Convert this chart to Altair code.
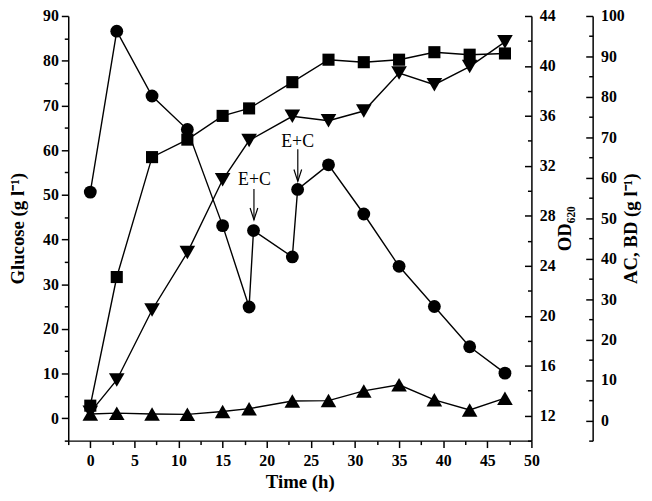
import altair as alt
import pandas as pd

# ---- data ----
t_glu = [0, 3, 7, 11, 15, 18, 18.5, 22.9, 23.5, 27, 31, 35, 39, 43, 47]
glucose = [50.6, 86.6, 72.1, 64.6, 43.1, 24.9, 42.0, 36.1, 51.2, 56.7, 45.7, 34.0, 25.0, 16.0, 10.1]

t_obs = [0, 3, 7, 11, 15, 18, 22.9, 27, 31, 35, 39, 43, 47]
od620 = [12.8, 23.1, 32.7, 34.1, 36.0, 36.6, 38.7, 40.5, 40.3, 40.5, 41.1, 40.9, 41.0]
bd = [2.0, 10.0, 27.3, 41.5, 59.5, 69.2, 75.2, 74.1, 76.5, 85.9, 83.0, 87.5, 93.6]
ac = [1.6, 1.8, 1.6, 1.5, 2.2, 2.9, 4.8, 4.9, 7.3, 8.8, 5.1, 2.6, 5.5]

ann_labels = ["E+C", "E+C"]
ann_text_t = [18.6, 23.5]
ann_text_y = [53.3, 61.9]
ann_arrow_t = [18.55, 23.52]
ann_arrow_top = [51.3, 60.2]
ann_arrow_tip = [44.4, 53.0]

x_major = [0, 5, 10, 15, 20, 25, 30, 35, 40, 45, 50]
x_minor = [-2.5, 2.5, 7.5, 12.5, 17.5, 22.5, 27.5, 32.5, 37.5, 42.5, 47.5]
glu_major = [0, 10, 20, 30, 40, 50, 60, 70, 80, 90]
glu_minor = [-5, 5, 15, 25, 35, 45, 55, 65, 75, 85]
od_major = [12, 16, 20, 24, 28, 32, 36, 40, 44]
od_minor = [10, 14, 18, 22, 26, 30, 34, 38, 42]
acbd_major = [0, 10, 20, 30, 40, 50, 60, 70, 80, 90, 100]
acbd_minor = [-5, 5, 15, 25, 35, 45, 55, 65, 75, 85, 95]

df_glu = pd.DataFrame({"t": t_glu, "glucose": glucose})
df_obs = pd.DataFrame({"t": t_obs, "od": od620, "bd": bd, "ac": ac})
df_txt = pd.DataFrame({"t": ann_text_t, "glucose": ann_text_y, "label": ann_labels})
df_arr = pd.DataFrame({"t": ann_arrow_t, "glucose": ann_arrow_top, "tip": ann_arrow_tip})

FONT = "Liberation Serif"
W, H = 469, 430
MAJ, MIN = 7, 4
LW = 1.4


def xs():
    return alt.Scale(domain=[-2.5, 50], nice=False, zero=False)


def glu_s():
    return alt.Scale(domain=[-5, 90], nice=False, zero=False)


def od_s():
    return alt.Scale(domain=[10, 44], nice=False, zero=False)


def acbd_s():
    return alt.Scale(domain=[-5, 100], nice=False, zero=False)


def minor_axis(orient, values, offset=0):
    return alt.Axis(orient=orient, values=values, tickSize=MIN, labels=False,
                    domain=False, title=None, offset=offset)


x_axis = alt.Axis(
    orient="bottom", values=x_major, tickSize=MAJ,
    labelPadding=5, labelFlush=False, labelOverlap=False,
    title="Time (h)", titleY=41, titleBaseline="middle",
)
glu_axis = alt.Axis(
    orient="left", values=glu_major, tickSize=MAJ,
    labelPadding=3, labelOverlap=False,
    title="Glucose (g l⁻¹)", titleX=-51, titleY=H / 2, titleAngle=270,
    titleAlign="center", titleBaseline="middle",
)
od_axis = alt.Axis(
    orient="left", offset=-W, values=od_major, tickSize=MAJ,
    labelAlign="left", labelPadding=-15, labelOverlap=False,
    title="OD₆₂₀", titleX=34, titleY=H / 2, titleAngle=270,
    titleAlign="center", titleBaseline="middle",
)
acbd_axis = alt.Axis(
    orient="left", offset=-(W + 62), values=acbd_major, tickSize=MAJ,
    labelAlign="left", labelPadding=-15, labelOverlap=False,
    title="AC, BD (g l⁻¹)", titleX=38, titleY=H / 2, titleAngle=270,
    titleAlign="center", titleBaseline="middle",
)

# glucose
glu_line = alt.Chart(df_glu).mark_line(color="black", strokeWidth=LW).encode(
    x=alt.X("t:Q", scale=xs(), axis=x_axis),
    y=alt.Y("glucose:Q", scale=glu_s(), axis=glu_axis),
)
glu_pts = alt.Chart(df_glu).mark_point(shape="circle", filled=True, color="black", opacity=1, size=169).encode(
    x=alt.X("t:Q", scale=xs(), axis=minor_axis("bottom", x_minor)),
    y=alt.Y("glucose:Q", scale=glu_s(), axis=minor_axis("left", glu_minor)),
)
ann_text = alt.Chart(df_txt).mark_text(font=FONT, fontSize=18, color="black", baseline="middle", align="center").encode(
    x=alt.X("t:Q", scale=xs(), axis=None),
    y=alt.Y("glucose:Q", scale=glu_s(), axis=None),
    text="label:N",
)
ann_rule = alt.Chart(df_arr).mark_rule(color="black", strokeWidth=1.2).encode(
    x=alt.X("t:Q", scale=xs(), axis=None),
    y=alt.Y("glucose:Q", scale=glu_s(), axis=None),
    y2="tip:Q",
)
ann_head = alt.Chart(df_arr).mark_point(shape="M-1.3,-4L0,0L1.3,-4", filled=False, color="black",
                                        strokeWidth=1.2, size=36, opacity=1).encode(
    x=alt.X("t:Q", scale=xs(), axis=None),
    y=alt.Y("tip:Q", scale=glu_s(), axis=None),
)

# OD
od_line = alt.Chart(df_obs).mark_line(color="black", strokeWidth=LW).encode(
    x=alt.X("t:Q", scale=xs(), axis=None),
    y=alt.Y("od:Q", scale=od_s(), axis=od_axis),
)
od_pts = alt.Chart(df_obs).mark_point(shape="square", filled=True, color="black", opacity=1, size=150).encode(
    x=alt.X("t:Q", scale=xs(), axis=None),
    y=alt.Y("od:Q", scale=od_s(), axis=minor_axis("left", od_minor, -W)),
)

# AC / BD
bd_line = alt.Chart(df_obs).mark_line(color="black", strokeWidth=LW).encode(
    x=alt.X("t:Q", scale=xs(), axis=None),
    y=alt.Y("bd:Q", scale=acbd_s(), axis=acbd_axis),
)
bd_pts = alt.Chart(df_obs).mark_point(shape="triangle-down", filled=True, color="black", opacity=1, size=250).encode(
    x=alt.X("t:Q", scale=xs(), axis=None),
    y=alt.Y("bd:Q", scale=acbd_s(), axis=minor_axis("left", acbd_minor, -(W + 62))),
)
ac_line = alt.Chart(df_obs).mark_line(color="black", strokeWidth=LW).encode(
    x=alt.X("t:Q", scale=xs(), axis=None),
    y=alt.Y("ac:Q", scale=acbd_s(), axis=None),
)
ac_pts = alt.Chart(df_obs).mark_point(shape="triangle-up", filled=True, color="black", opacity=1, size=250).encode(
    x=alt.X("t:Q", scale=xs(), axis=None),
    y=alt.Y("ac:Q", scale=acbd_s(), axis=None),
)

chart = (
    alt.layer(glu_line, glu_pts, ann_text, ann_rule, ann_head,
              od_line, od_pts, bd_line, bd_pts, ac_line, ac_pts)
    .resolve_scale(x="independent", y="independent")
    .resolve_axis(x="independent", y="independent")
    .properties(
        width=W, height=H,
        autosize=alt.AutoSizeParams(type="none"),
        padding={"left": 61, "top": 5, "right": 114, "bottom": 55},
        background="white",
    )
    .configure_view(stroke=None)
    .configure_axis(
        grid=False,
        domainColor="black", domainWidth=1.5,
        tickColor="black", tickWidth=1.5,
        labelColor="black", labelFont=FONT, labelFontSize=16, labelFontWeight="bold",
        titleColor="black", titleFont=FONT, titleFontSize=19, titleFontWeight="bold",
    )
)

chart.save("out.html", embed_options={"renderer": "svg", "actions": False})
